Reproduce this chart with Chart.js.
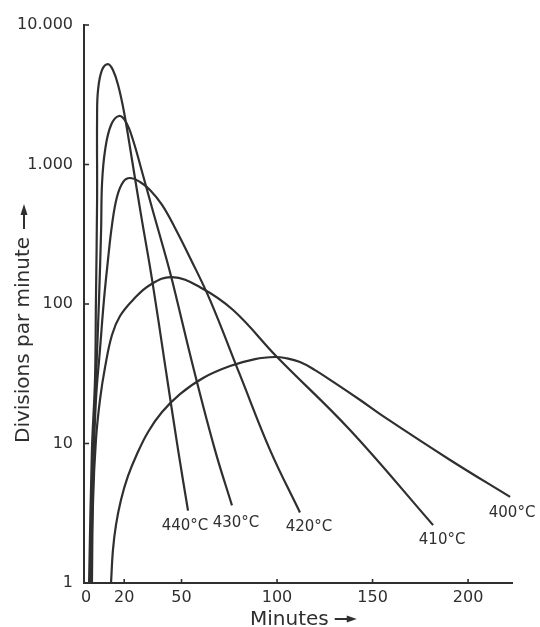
<!DOCTYPE html>
<html>
<head>
<meta charset="utf-8">
<script src="https://cdn.jsdelivr.net/npm/chart.js@4.4.1/dist/chart.umd.min.js"></script>
<style>
  html, body { margin: 0; padding: 0; background: #ffffff; }
  canvas { display: block; }
</style>
</head>
<body>
<canvas id="chart" width="540" height="627"></canvas>
<script>
// Axis ticks and the labels printed at them
const yTicks = [1, 10, 100, 1000, 10000];
const yTickLabels = ['1', '10', '100', '1.000', '10.000'];
const xTicks = [0, 20, 50, 100, 150, 200];
const xTickLabels = ['0', '20', '50', '100', '150', '200'];

// Isotherm names
const seriesNames = ['440°C', '430°C', '420°C', '410°C', '400°C'];

// Divisions per minute against time (minutes), one curve per temperature
const minutes440 = [1.6, 3.1, 4.7, 5.2, 5.8, 5.8, 6.3, 8.4, 11.5, 14.1, 16.8, 19.9, 24.1, 28.8, 34.6, 41.4, 48.2, 53.4];
const rate440    = [1, 9.0, 28.5, 107, 556, 2190, 3420, 4760, 5250, 4760, 3715, 2380, 1077, 435, 149, 36.5, 9.0, 3.3];

const minutes430 = [2.1, 3.7, 5.2, 6.8, 7.9, 8.4, 10.0, 13.1, 17.3, 20.9, 24.6, 29.8, 35.6, 40.8, 45.0, 56.5, 67.5, 76.4];
const rate430    = [1, 9.0, 28.5, 107, 339, 737, 1271, 1919, 2228, 2018, 1499, 841, 435, 244, 149, 33.6, 9.0, 3.6];

const minutes420 = [2.6, 3.7, 5.2, 7.3, 9.4, 11.5, 13.6, 16.2, 19.4, 23.0, 28.3, 33.5, 39.8, 46.6, 54.5, 64.9, 80.6, 96.3, 112.0];
const rate420    = [1, 5.5, 20.5, 46.8, 107, 207, 368, 585, 749, 800, 749, 656, 513, 351, 214, 107, 31.0, 9.0, 3.2];

const minutes410 = [3.1, 3.7, 5.2, 7.3, 10.0, 13.6, 17.8, 24.6, 33.5, 45.0, 59.7, 77.0, 100.0, 138.2, 181.7];
const rate410    = [1, 3.9, 10.6, 20.5, 35.4, 60, 82, 107, 137, 156, 132, 90.6, 41.7, 12.5, 2.6];

const minutes400 = [13.1, 14.1, 15.7, 18.3, 22.0, 26.7, 32.5, 39.8, 49.2, 61.3, 75.4, 88.5, 99.0, 104.2, 112.0, 119.9, 130.4, 143.5, 155.5, 190.6, 222.0];
const rate400    = [1, 1.72, 2.61, 3.94, 5.85, 8.41, 12.1, 16.8, 22.6, 29.5, 35.9, 40.3, 41.7, 41.0, 38.4, 33.6, 27.1, 20.5, 15.7, 7.62, 4.14];

const seriesMinutes = [minutes440, minutes430, minutes420, minutes410, minutes400];
const seriesRates = [rate440, rate430, rate420, rate410, rate400];

// Where each temperature label sits relative to the end of its curve (px)
const labelOffsets = [[-3, 15], [4, 18], [9, 15], [9, 15], [2, 16]];

const INK = '#2f2f2f';
const FONT = '"DejaVu Sans", "Liberation Sans", sans-serif';

const datasets = seriesNames.map((name, i) => ({
  label: name,
  data: seriesMinutes[i].map((m, k) => ({ x: m, y: seriesRates[i][k] })),
  borderColor: INK,
  borderWidth: 2.2,
  pointRadius: 0,
  tension: 0.4,
  fill: false
}));

// Inner tick marks, curve labels and axis titles
const annotations = {
  id: 'annotations',
  afterDraw(chart) {
    const { ctx, scales: { x, y }, chartArea } = chart;
    ctx.save();
    ctx.strokeStyle = INK;
    ctx.fillStyle = INK;
    ctx.lineWidth = 1.6;

    // short ticks on the inside of both axes
    yTicks.forEach(v => {
      const py = y.getPixelForValue(v);
      ctx.beginPath();
      ctx.moveTo(chartArea.left, py);
      ctx.lineTo(chartArea.left + 5, py);
      ctx.stroke();
    });
    xTicks.slice(1).forEach(v => {
      const px = x.getPixelForValue(v);
      ctx.beginPath();
      ctx.moveTo(px, chartArea.bottom);
      ctx.lineTo(px, chartArea.bottom - 4);
      ctx.stroke();
    });

    // temperature label under the end of each curve
    ctx.font = '15px ' + FONT;
    ctx.textAlign = 'center';
    ctx.textBaseline = 'middle';
    seriesNames.forEach((name, i) => {
      const m = seriesMinutes[i], r = seriesRates[i];
      const px = x.getPixelForValue(m[m.length - 1]);
      const py = y.getPixelForValue(r[r.length - 1]);
      ctx.fillText(name, px + labelOffsets[i][0], py + labelOffsets[i][1]);
    });

    // x-axis title with arrow
    ctx.font = '20px ' + FONT;
    ctx.textAlign = 'left';
    ctx.textBaseline = 'alphabetic';
    const xTitle = 'Minutes';
    ctx.fillText(xTitle, 250, 625);
    const xw = ctx.measureText(xTitle).width;
    const ax = 250 + xw + 6, ay = 619;
    ctx.lineWidth = 2;
    ctx.beginPath();
    ctx.moveTo(ax, ay);
    ctx.lineTo(ax + 16, ay);
    ctx.stroke();
    ctx.beginPath();
    ctx.moveTo(ax + 22, ay);
    ctx.lineTo(ax + 12, ay - 3.5);
    ctx.lineTo(ax + 12, ay + 3.5);
    ctx.closePath();
    ctx.fill();

    // y-axis title, rotated, with arrow
    ctx.save();
    ctx.translate(24, 443);
    ctx.rotate(-Math.PI / 2);
    ctx.textBaseline = 'middle';
    const yTitle = 'Divisions par minute';
    ctx.fillText(yTitle, 0, 0);
    const yw = ctx.measureText(yTitle).width;
    const bx = yw + 8;
    ctx.beginPath();
    ctx.moveTo(bx, 0);
    ctx.lineTo(bx + 18, 0);
    ctx.stroke();
    ctx.beginPath();
    ctx.moveTo(bx + 25, 0);
    ctx.lineTo(bx + 14, -3.5);
    ctx.lineTo(bx + 14, 3.5);
    ctx.closePath();
    ctx.fill();
    ctx.restore();

    ctx.restore();
  }
};

new Chart(document.getElementById('chart'), {
  type: 'line',
  data: { datasets },
  options: {
    responsive: false,
    animation: false,
    layout: { padding: { top: 25, right: 28, left: 0, bottom: 0 } },
    plugins: { legend: { display: false }, tooltip: { enabled: false } },
    scales: {
      x: {
        type: 'linear',
        min: -1.05,
        max: 223,
        afterBuildTicks: s => { s.ticks = xTicks.map(v => ({ value: v })); },
        afterFit: s => { s.height = 44; },
        ticks: {
          autoSkip: false,
          maxRotation: 0,
          padding: 5,
          color: INK,
          font: { family: FONT, size: 16 },
          callback: (v, i) => xTickLabels[i]
        },
        grid: { display: false, drawTicks: false },
        border: { display: true, color: INK, width: 2 }
      },
      y: {
        type: 'logarithmic',
        min: 1,
        max: 10000,
        afterBuildTicks: s => { s.ticks = yTicks.map(v => ({ value: v })); },
        afterFit: s => { s.width = 84; },
        ticks: {
          autoSkip: false,
          padding: 11,
          color: INK,
          font: { family: FONT, size: 16 },
          callback: (v, i) => yTickLabels[i]
        },
        grid: { display: false, drawTicks: false },
        border: { display: true, color: INK, width: 2 }
      }
    }
  },
  plugins: [annotations]
});
</script>
</body>
</html>
